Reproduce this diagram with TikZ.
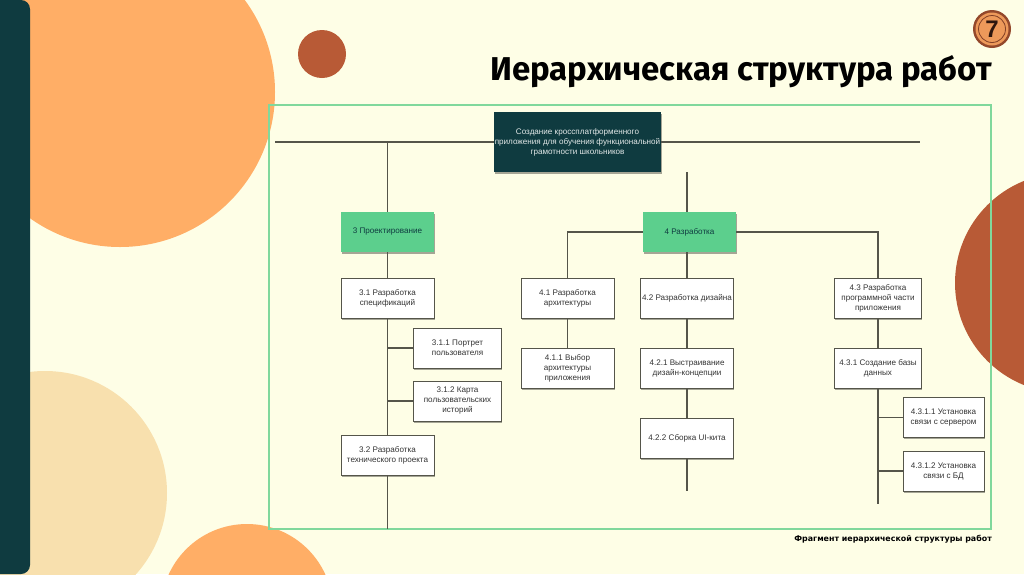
\documentclass[tikz,border=0pt]{standalone}
\usepackage{fontspec}
\setmainfont{Liberation Sans}
\newfontfamily\titlefont{Fira Sans}
\newfontfamily\capfont{DejaVu Sans}
\usetikzlibrary{shadows}
\definecolor{bgc}{HTML}{FEFEE6}
\definecolor{teal}{HTML}{0F3B40}
\definecolor{orangec}{HTML}{FFAE66}
\definecolor{palec}{HTML}{F8E0AE}
\definecolor{rustc}{HTML}{B85A36}
\definecolor{greenc}{HTML}{5CCF8D}
\definecolor{framec}{HTML}{80D89C}
\definecolor{linec}{HTML}{55554A}
\tikzset{
  basebox/.style={rectangle,inner sep=0pt,align=center,font=\fontsize{8.1}{10}\selectfont,
    drop shadow={shadow xshift=0.5pt,shadow yshift=-1.6pt,opacity=0.35,fill=black}},
  rootbox/.style={basebox,fill=teal,text=white!88!teal,minimum width=167pt,minimum height=60pt},
  phasebox/.style={basebox,fill=greenc,text=teal,minimum width=93pt,minimum height=40pt},
  taskbox/.style={basebox,fill=white,draw=linec,line width=0.9pt,text=black!80,minimum height=40pt},
  wide/.style={taskbox,minimum width=93pt},
  mid/.style={taskbox,minimum width=87.5pt},
  narrow/.style={taskbox,minimum width=81pt},
  conn/.style={draw=linec,line width=1.2pt},
  hub/.style={inner sep=0pt,minimum size=0pt}
}
\begin{document}
\begin{tikzpicture}[x=1pt,y=-1pt]
\useasboundingbox (0,0) rectangle (1024,574);
\clip (0,0) rectangle (1024,574);
\fill[bgc] (0,0) rectangle (1024,574);
% decoration
\fill[orangec] (120,92) circle (155);
\fill[palec] (45,493) circle (122);
\fill[orangec] (247,610) circle (86);
\fill[rustc] (322,54) circle (24);
\fill[rustc] (1065,283) circle (110);
\fill[teal,rounded corners=9pt] (-20,0) rectangle (30,574);
% logo
\fill[rustc!80!black] (992,29) circle (19);
\fill[orangec!75!rustc] (992,29) circle (16.5);
\draw[rustc!70!black,line width=0.8pt] (992,29) circle (13.5);
\node[hub,font=\fontsize{24}{24}\bfseries\selectfont,text=black!75!rustc] (logo) at (992,29) {7};
% frame
\draw[framec,line width=1.5pt] (269,105) rectangle (991,529);
% title
\node[hub,anchor=center,font=\titlefont\fontsize{33}{40}\bfseries\selectfont,text=black] (title) at (741,72) {Иерархическая структура работ};
\node[hub,anchor=east,font=\capfont\fontsize{7.9}{9}\bfseries\selectfont,text=black] (caption) at (992,539) {Фрагмент иерархической структуры работ};
% nodes
\node[rootbox] (root) at (577.5,142) {Создание кроссплатформенного\\приложения для обучения функциональной\\грамотности школьников};
\node[phasebox] (p3) at (387.5,232) {3 Проектирование};
\node[phasebox] (p4) at (689.5,232) {4 Разработка};
\node[wide] (n31) at (387.5,298) {3.1 Разработка\\спецификаций};
\node[mid] (n311) at (457.5,348) {3.1.1 Портрет\\пользователя};
\node[mid] (n312) at (457.5,401) {3.1.2 Карта\\пользовательских\\историй};
\node[wide] (n32) at (387.5,455) {3.2 Разработка\\технического проекта};
\node[wide] (n41) at (567.5,298) {4.1 Разработка\\архитектуры};
\node[wide] (n411) at (567.5,368) {4.1.1 Выбор\\архитектуры\\приложения};
\node[wide] (n42) at (687,298) {4.2 Разработка дизайна};
\node[wide] (n421) at (687,368) {4.2.1 Выстраивание\\дизайн-концепции};
\node[wide] (n422) at (687,438) {4.2.2 Сборка UI-кита};
\node[mid] (n43) at (878,298) {4.3 Разработка\\программной части\\приложения};
\node[mid] (n431) at (878,368) {4.3.1 Создание базы\\данных};
\node[narrow] (n4311) at (943.5,417.5) {4.3.1.1 Установка\\связи с сервером};
\node[narrow] (n4312) at (943.5,471) {4.3.1.2 Установка\\связи с БД};
% free ends and junctions
\coordinate (left) at (275,142);
\coordinate (right) at (920,142);
\coordinate (j3) at (387.5,142);
\coordinate (j4) at (687,172);
\coordinate (t4) at (687,212);
\coordinate (b4) at (687,252);
\coordinate (j311) at (387.5,348);
\coordinate (j312) at (387.5,401);
\coordinate (end32) at (387.5,529);
\coordinate (end422) at (687,491);
\coordinate (end431) at (878,504);
\coordinate (j4311) at (878,417.5);
\coordinate (j4312) at (878,471);
\coordinate (c41) at (567.5,232);
\coordinate (c43) at (878,232);
% connectors
\draw[conn] (left) -- (root.west);
\draw[conn] (root.east) -- (right);
\draw[conn] (j3) -- (p3.north);
\draw[conn] (j4) -- (t4);
\draw[conn] (b4) -- (n42.north);
\draw[conn] (p3) -- (n31);
\draw[conn] (n31) -- (n32);
\draw[conn] (j311) -- (n311);
\draw[conn] (j312) -- (n312);
\draw[conn] (n32) -- (end32);
\draw[conn] (p4.west) -- (c41) -- (n41.north);
\draw[conn] (p4.east) -- (c43) -- (n43.north);
\draw[conn] (n41) -- (n411);
\draw[conn] (n42) -- (n421);
\draw[conn] (n421) -- (n422);
\draw[conn] (n422) -- (end422);
\draw[conn] (n43) -- (n431);
\draw[conn] (n431) -- (end431);
\draw[conn] (j4311) -- (n4311);
\draw[conn] (j4312) -- (n4312);
\end{tikzpicture}
\end{document}
